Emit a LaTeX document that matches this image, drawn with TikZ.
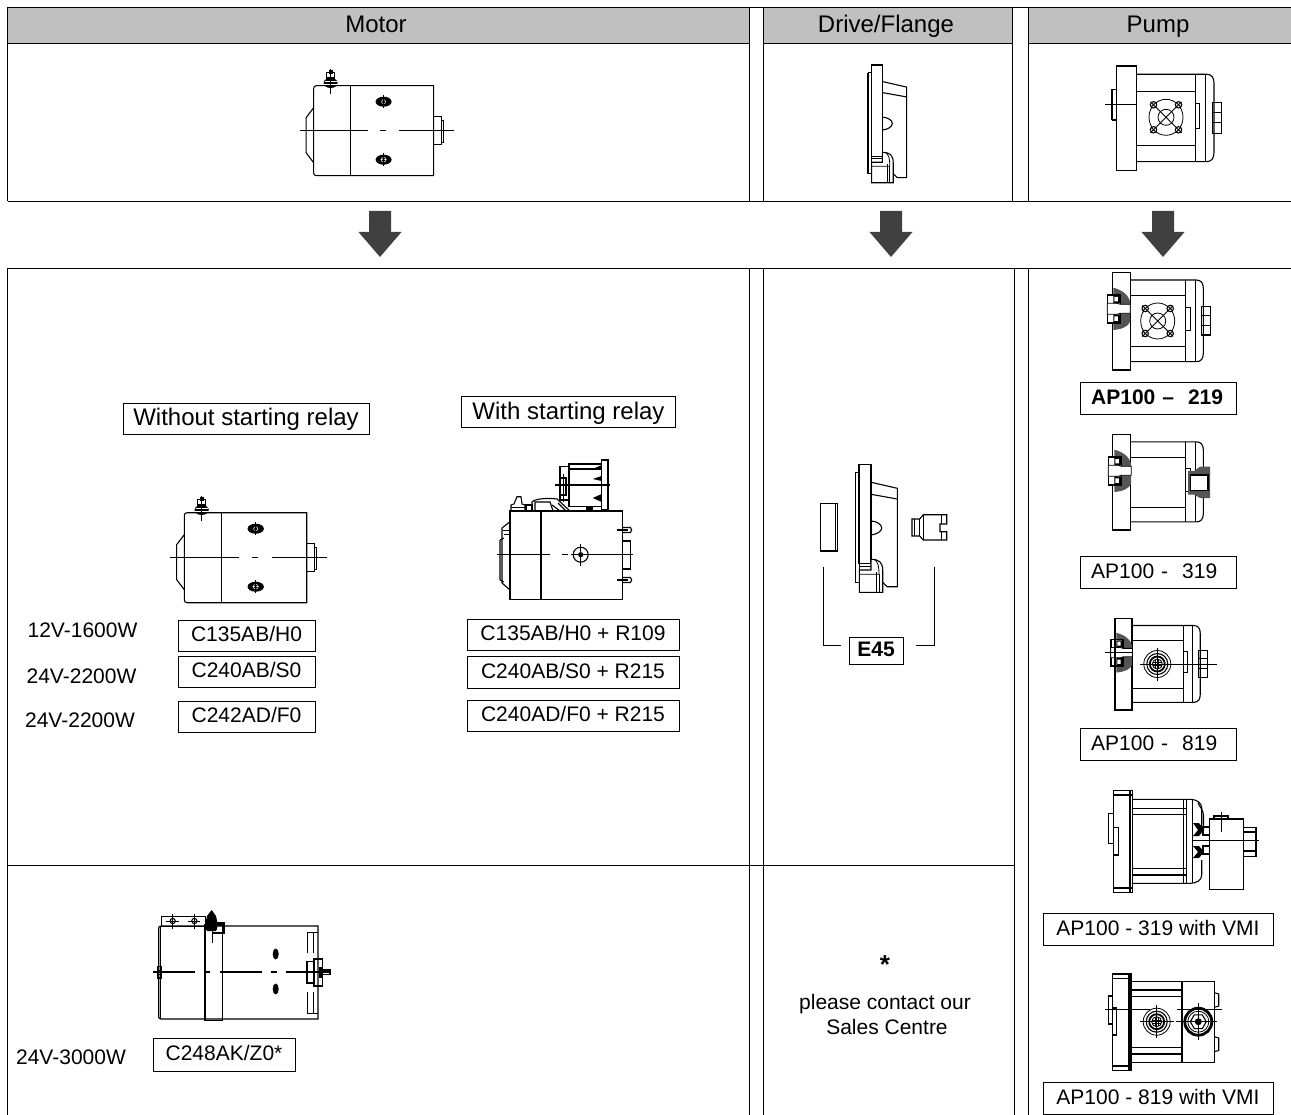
\documentclass[tikz,border=0pt]{standalone}
\usepackage{fontspec}
\setmainfont{Liberation Sans}
\definecolor{headgray}{RGB}{192,192,192}
\definecolor{arrowgray}{RGB}{64,64,64}
\definecolor{hatchgray}{RGB}{85,85,85}
\tikzset{
  tb/.style={line width=1pt,black},
  dw/.style={line width=1.1pt,black},
  thn/.style={line width=.8pt,black},
  bx/.style={draw=black,line width=.9pt,fill=white,inner sep=0pt,font=\fontsize{21}{21}\selectfont,text height=16pt,text depth=3.5pt,align=center},
  tx/.style={inner sep=0pt,font=\fontsize{21}{21}\selectfont,text height=16pt,text depth=3.5pt},
  bigbx/.style={bx,font=\fontsize{24}{24}\selectfont,text height=18pt,text depth=4pt},
  head/.style={inner sep=0pt,font=\fontsize{24}{24}\selectfont,text height=17pt,text depth=5pt},
  downarrow/.pic={\fill[arrowgray] (-11,0) -- (11,0) -- (11,21) -- (21.5,21) -- (0,46) -- (-21.5,21) -- (-11,21) -- cycle;},
  motorbody/.pic={
    \draw[dw] (120,0) -- (3,0) .. controls (1,0) and (0,1) .. (0,3) -- (0,87) .. controls (0,89) and (1,90) .. (3,90) -- (120,90) -- cycle;
    \draw[thn] (36.5,0) -- (36.5,90);
    \draw[dw] (0,22) -- (-7.5,32) -- (-7.5,67) -- (0,77);
    \draw[dw] (120,31) rectangle (128,59);
    \draw[thn] (128,35) -- (129.5,35) -- (129.5,57) -- (128,57);
    \draw[dw] (-14,45) -- (54,45) (66.5,45) -- (72,45) (85.5,45) -- (140,45);
    \fill (70,16) ellipse[x radius=8,y radius=5];
    \fill (70,74) ellipse[x radius=8,y radius=5];
    \draw[white,line width=.5pt] (70,16) circle[radius=2];
    \draw[white,line width=.5pt] (70,74) circle[radius=2.4] (67,74) -- (73,74) (70,71) -- (70,77);
    \draw[thn] (70,9.5) -- (70,22.5) (70,67.5) -- (70,80.5);
    \fill (17,-2.7) ellipse[x radius=7,y radius=5];
    \draw[dw,fill=white] (13,-13) rectangle (21,-7.7);
    \fill (15,-16) rectangle (19,-12);
    \draw[white,line width=.6pt] (10,-1) -- (24,-1) (11,-4.5) -- (23,-4.5);
    \draw[thn] (17,-17) -- (17,8);
  },
  drive/.pic={
    \draw[dw] (0,0) rectangle (12,99);
    \draw[dw] (-3.7,8.4) -- (0,8.4) (0,118.4) -- (-3.7,118.4) -- (-3.7,8.4);
    \draw[thn] (0,99) -- (0,118.4);
    \draw[dw] (12,18) -- (38.3,24) -- (38.3,122.4) -- (28,122.4) -- (23.7,118);
    \draw[dw] (12,30) -- (38.3,34.7);
    \draw[dw] (12,18) -- (12,95);
    \draw[dw] (12,56.7) .. controls (18,57) and (22.7,60) .. (22.7,63.7) .. controls (22.7,67) and (18,70) .. (12,70.7);
    \draw[dw,fill=white] (12,95) .. controls (20,95) and (23.7,98) .. (23.7,106) -- (23.7,128) -- (0.3,128) -- (0.3,105.7) -- (12,105.7) -- cycle;
    \draw[thn] (15,95) .. controls (19,97) and (20,102) .. (20,110) -- (0.3,110);
    \draw[thn] (17,108) -- (17,128) (20,110) -- (20,128) (0.3,102) -- (12,102);
  },
  pumphousing/.pic={
    \draw[dw] (18.4,7.7) -- (84,7.7) .. controls (89,7.7) and (91,11) .. (91,16) -- (91,81) .. controls (91,86) and (89,89.4) .. (84,89.4) -- (18.4,89.4);
    \draw[dw] (0,0) rectangle (18.4,97.7);
    \draw[thn] (73.4,7.7) -- (73.4,89.4) (82.7,7.7) -- (82.7,89.4);
    \draw[thn] (18.4,23.4) -- (73.4,23.4) (18.4,74.4) -- (73.4,74.4);
    \draw[thn] (73.4,35) rectangle (77.7,58);
  },
  pumpbolt/.pic={
    \draw[dw] (89.4,34.4) rectangle (98.4,62.7);
    \draw[thn] (89.4,43) -- (98.4,43) (89.4,53) -- (98.4,53);
  },
  pumpport/.pic={
    \draw[thn] (0,0) ellipse[x radius=17,y radius=18];
    \draw[thn] (0,0) circle[radius=8];
    \draw[thn] (-15.5,-15.5) -- (15.5,15.5) (-15.5,15.5) -- (15.5,-15.5);
    \foreach \sx/\sy in {-1/-1,1/-1,-1/1,1/1}{
      \draw[dw,fill=white] (\sx*12.5,\sy*12.5) circle[radius=3.2];
      \draw[thn] (\sx*12.5-2.4,\sy*12.5-2.4) -- (\sx*12.5+2.4,\sy*12.5+2.4) (\sx*12.5-2.4,\sy*12.5+2.4) -- (\sx*12.5+2.4,\sy*12.5-2.4);
    }
  },
  pumpsection/.pic={
    \fill[hatchgray] (1,15.4) .. controls (10,18) and (16,22) .. (17.7,29.4) -- (17.7,49.4) .. controls (16,54) and (10,57) .. (1,57.7) -- cycle;
    \draw[line width=1.6pt,fill=white] (8,22.7) -- (-5,22.7) -- (-5,50.7) -- (8,50.7) -- cycle;
    \draw[thn,fill=white] (-5,31) -- (5,31) -- (8,32) -- (18,32) -- (18,41) -- (8,41) -- (5,42) -- (-5,42) -- cycle;
    \fill[black] (1,23.5) rectangle (8,31) (1,42) rectangle (8,50);
    \fill[white] (2,24.7) rectangle (5.5,29) (2,44) rectangle (5.5,48.5);
  },
  portbore/.pic={
    \draw[thn] (0,0) circle[radius=13.5];
    \draw[dw] (0,0) circle[radius=10.5];
    \draw[line width=1.8pt] (0,0) circle[radius=7.5];
    \draw[line width=.9pt] (0,0) circle[radius=5];
    \draw[line width=.9pt] (-4.5,-1.5) -- (4.5,-1.5) (-4.5,1.5) -- (4.5,1.5) (-1.5,-4.5) -- (-1.5,4.5) (1.5,-4.5) -- (1.5,4.5);
    \draw[thn] (-17,0) -- (17,0) (0,-16.5) -- (0,16.5);
  }
}
\begin{document}
\begin{tikzpicture}[x=1pt,y=-1pt]
\useasboundingbox (0,0) rectangle (1291,1115);
\fill[white] (0,0) rectangle (1291,1115);
% header bands
\fill[headgray] (7.5,7.5) rectangle (749.5,43.5) (763.5,7.5) rectangle (1012.5,43.5) (1028.5,7.5) rectangle (1291,43.5);
% table top
\draw[tb] (7.5,7.5) -- (1291,7.5) (7.5,43.5) -- (749.5,43.5) (763.5,43.5) -- (1012.5,43.5) (1028.5,43.5) -- (1291,43.5) (7.5,201.5) -- (1291,201.5);
\draw[tb] (7.5,7.5) -- (7.5,201.5) (749.5,7.5) -- (749.5,201.5) (763.5,7.5) -- (763.5,201.5) (1012.5,7.5) -- (1012.5,201.5) (1028.5,7.5) -- (1028.5,201.5);
% table bottom
\draw[tb] (7.5,268.5) -- (1291,268.5) (7.5,865.5) -- (1014.5,865.5);
\draw[tb] (7.5,268.5) -- (7.5,1115) (749.5,268.5) -- (749.5,1115) (763.5,268.5) -- (763.5,1115) (1014.5,268.5) -- (1014.5,1115) (1028.5,268.5) -- (1028.5,1115);
% headers
\node[head] (hmotor) at (376,26.5) {Motor};
\node[head] (hdrive) at (886,26.5) {Drive/Flange};
\node[head] (hpump) at (1158,26.5) {Pump};
% arrows
\pic at (380,211) {downarrow};
\pic at (891,211) {downarrow};
\pic at (1163,211) {downarrow};
% top row drawings
\pic at (313.6,85.7) {motorbody};
\pic[scale=.92] at (871.4,65) {drive};
\pic[scale=1.07] at (1116.6,66) {pumphousing};
\pic[scale=1.07] at (1116.6,66) {pumpbolt};
\pic at (1166,117.3) {pumpport};
\draw[dw] (1112,89.3) -- (1116.6,89.3) (1112,120) -- (1116.6,120) (1112,89.3) -- (1112,120);
\draw[dw] (1105,104.7) -- (1136,104.7);
% motor column labels
\node[bigbx,minimum width=246pt,minimum height=31pt] (nowo) at (246,418.5) {Without starting relay};
\node[bigbx,minimum width=214pt,minimum height=31pt] (wi) at (568.5,412) {With starting relay};
\pic[xscale=1.02] at (184.3,512.7) {motorbody};
% relay motor
\draw[dw] (510,511) rectangle (622.7,599.3);
\draw[dw] (541,511) -- (541,599.3);
\draw[dw] (510,521.7) -- (502,528) -- (502,583) -- (510,590);
\draw[dw] (510,521.7) -- (510,590);
\draw[dw] (500,540) -- (500,580) (500,540) -- (504,538) (500,580) -- (504,582);
\draw[dw] (622.7,541) -- (630.7,541) -- (630.7,569) -- (622.7,569);
\draw[dw] (496.7,554.7) -- (550,554.7) (561.7,554.7) -- (568,554.7) (571,554.7) -- (632.7,554.7);
\draw[dw] (580.7,554.7) circle[radius=7.5];
\draw[thn] (580.7,544) -- (580.7,565.5);
\fill (580.7,554.7) circle[radius=2.6];
\draw[dw] (617,530) -- (628,530) (617,580) -- (628,580);
\draw[dw] (622.7,527.5) -- (630.5,527.5) -- (631.7,530) -- (630.5,532.5) -- (622.7,532.5);
\draw[dw] (622.7,577.5) -- (630.5,577.5) -- (631.7,580) -- (630.5,582.5) -- (622.7,582.5);
\draw[thn] (503,530) -- (510,530) (504,534) -- (510,534);
% relay unit
\draw[dw] (569,464) rectangle (601.7,506.7);
\draw[dw] (601.7,460) -- (608,460) -- (608,510) -- (601.7,510) -- cycle;
\fill (601.7,465) -- (592.7,469) -- (601.7,470) -- cycle (601.7,476) -- (592.7,479) -- (601.7,481) -- cycle (601.7,494) -- (592.7,498) -- (601.7,502) -- cycle;
\draw[dw] (560,466.7) rectangle (569,500);
\draw[dw] (555,485) -- (610,485);
\draw[dw] (569,469) -- (601.7,469);
\draw[dw] (560,478) rectangle (566,495);
\draw[thn] (563,474) -- (563,502);
\draw[dw] (517,496.7) -- (521,496.7) -- (522,504) -- (525,505) -- (525,511) -- (511,511) -- (511,505) -- (514,504) -- cycle;
\draw[thn] (511,507) -- (525,507);
\draw[dw] (526,505) rectangle (532,511);
\draw[dw] (532,511) -- (532,502) .. controls (536,498) and (550,498) .. (557,499) -- (570,511);
\draw[dw] (535,511) -- (535,502) -- (550,502) -- (553,511);
\draw[dw] (558,503) -- (566,511) (552,505) -- (560,511);
\fill (586,507) rectangle (593,511);
% type boxes motor
\node[bx,minimum width=137pt,minimum height=31pt] (m1) at (246.5,635.5) {C135AB/H0};
\node[bx,minimum width=137pt,minimum height=31pt] (m2) at (246.5,671.5) {C240AB/S0};
\node[bx,minimum width=137pt,minimum height=31pt] (m3) at (246.5,716.5) {C242AD/F0};
\node[bx,minimum width=212pt,minimum height=31pt] (r1) at (573,634.5) {C135AB/H0 + R109};
\node[bx,minimum width=212pt,minimum height=32pt] (r2) at (573,672) {C240AB/S0 + R215};
\node[bx,minimum width=212pt,minimum height=31pt] (r3) at (573,715.5) {C240AD/F0 + R215};
\node[tx] (v1) at (82.5,631) {12V-1600W};
\node[tx] (v2) at (81.5,677.5) {24V-2200W};
\node[tx] (v3) at (80,721.5) {24V-2200W};
\node[tx] (v4) at (71,1058.5) {24V-3000W};
% big motor
\draw[dw] (318,926) -- (161,926) .. controls (159.5,926) and (158.7,927) .. (158.7,928) -- (158.7,1017) .. controls (158.7,1018) and (159.5,1019) .. (161,1019) -- (318,1019) -- cycle;
\draw[dw] (205,925) rectangle (222.7,1020.7);
\draw[thn] (161,916) rectangle (205.7,926);
\draw[thn] (160.5,926) -- (160.5,1019);
\draw[thn] (166,921) -- (179,921) (188,921) -- (200,921) (172.7,914) -- (172.7,929) (194.3,914) -- (194.3,929);
\draw[dw] (172.7,921) circle[radius=2.6] (194.3,921) circle[radius=2.6];
\fill (206,923) rectangle (217,930);
\fill (211.7,910) -- (216,916) -- (218,925) -- (216,931) -- (207,931) -- (205,925) -- (207,916) -- cycle;
\draw[dw] (217,923) -- (224,923) -- (224,933) -- (212,933);
\draw[thn] (212,930) -- (212,943);
\draw[dw] (153,972) -- (195,972) (205.7,972) -- (210,972) (219.5,972) -- (262,972) (271,972) -- (276.7,972) (285.7,972) -- (330,972);
\fill (275.7,954) ellipse[x radius=3,y radius=5.5] (275.7,989) ellipse[x radius=3,y radius=5.5];
\draw[dw] (158,966.7) rectangle (161.7,978);
\draw[thn] (158,970) -- (161.7,970) (158,974) -- (161.7,974);
\draw[thn] (318,932) -- (307,932) -- (307,953) (313,932) -- (313,953);
\draw[thn] (318,1013) -- (307,1013) -- (307,992) (313,1013) -- (313,992);
\draw[dw] (307,961.7) rectangle (314,983);
\draw[dw] (314,959) rectangle (322.7,986);
\draw[dw] (322.7,970) rectangle (330,974.7);
\fill (319,967) rectangle (323,978);
\node[bx,minimum width=142pt,minimum height=33pt] (m4) at (224,1054.5) {C248AK/Z0*};
% drive column
\pic at (859,464.3) {drive};
\draw[dw] (820.3,503.3) rectangle (837.3,551);
\draw[thn] (835.5,503.3) -- (835.5,551);
\draw[dw] (923.3,514.7) -- (946.7,514.7) -- (946.7,524) -- (940,524) -- (940,531.7) -- (946.7,531.7) -- (946.7,540) -- (923.3,540) -- (919.7,536) -- (912,536) -- (912,519) -- (919.7,519) -- cycle;
\draw[thn] (923.3,514.7) -- (923.3,540) (919.7,519) -- (919.7,536) (941.5,514.7) -- (941.5,524) (941.5,531.7) -- (941.5,540) (914,519) -- (914,536);
\node[bx,minimum width=54pt,minimum height=27pt,font=\bfseries\fontsize{21}{21}\selectfont] (e45) at (876,650.5) {E45};
\coordinate (bl) at (823.7,566.7);
\coordinate (br) at (934,566.7);
\draw[thn] (bl) |- ([shift={(-8,-5)}]e45.west);
\draw[thn] (br) |- ([shift={(13,-5)}]e45.east);
\node[tx,font=\bfseries\fontsize{26}{26}\selectfont] (star) at (885,967) {*};
\node[tx] (contact1) at (885,1003.5) {please contact our};
\node[tx] (contact2) at (887,1028.5) {Sales Centre};
% pump column
\pic at (1112.3,272.3) {pumphousing};
\pic at (1112.3,272.3) {pumpbolt};
\pic at (1157.7,321) {pumpport};
\pic at (1112.3,272.3) {pumpsection};
\node[bx,minimum width=156pt,minimum height=32pt,font=\bfseries\fontsize{21}{21}\selectfont,text width=135pt,align=left] (a1) at (1158.7,398) {AP100 –\ \ 219};
\pic[yscale=.98] at (1112.3,434.3) {pumphousing};
\pic at (1113.3,434.3) {pumpsection};
\fill[hatchgray] (1188,471) -- (1194,471) -- (1200,466.7) -- (1210,466.7) -- (1210,498) -- (1200,498) -- (1194,494.5) -- (1188,494.5) -- cycle;
\draw[dw,fill=white] (1190.7,475) rectangle (1208,490.7);
\node[bx,minimum width=156pt,minimum height=32pt,text width=135pt,align=left] (a2) at (1158.7,572.5) {AP100 -\ \ 319};
\pic[scale=.94] at (1114.7,618.3) {pumphousing};
\pic[scale=.94] at (1114.7,618.3) {pumpbolt};
\pic[scale=.94] at (1115.5,618.3) {pumpsection};
\draw[line width=1.6pt] (1183.3,626) -- (1183.3,702.7) (1192.3,626) -- (1192.3,702.7);
\draw[line width=1.6pt] (1114.7,618.3) rectangle (1132.3,710);
\pic at (1157.3,664) {portbore};
\draw[dw] (1105,652.3) -- (1132,652.3);
\draw[thn] (1174,664) -- (1216.7,664);
\node[bx,minimum width=156pt,minimum height=32pt,text width=135pt,align=left] (a3) at (1158.7,744.5) {AP100 -\ \ 819};
% 319 VMI
\draw[dw] (1113.3,790.7) rectangle (1132.3,892.3);
\draw[dw] (1113.3,795) -- (1132.3,795) (1113.3,888) -- (1132.3,888);
\draw[line width=1.4pt] (1130,790.7) -- (1130,892.3);
\draw[dw] (1132.3,799.3) -- (1190,799.3) .. controls (1197,799.3) and (1201.7,803) .. (1201.7,808) -- (1201.7,830);
\draw[dw] (1132.3,883.3) -- (1190,883.3) .. controls (1197,883.3) and (1201.7,880) .. (1201.7,875) -- (1201.7,860);
\draw[dw] (1132.3,808.3) -- (1186.7,808.3) (1132.3,814.3) -- (1186.7,814.3) (1132.3,868.3) -- (1186.7,868.3) (1132.3,875) -- (1186.7,875);
\draw[thn] (1183.3,799.3) -- (1183.3,883.3) (1186.7,799.3) -- (1186.7,883.3) (1192.3,799.3) -- (1192.3,883.3);
\draw[dw] (1198,803) .. controls (1200,807) and (1203,810) .. (1203.5,815) -- (1203.5,830);
\draw[dw] (1108.7,813.3) rectangle (1113.3,843.3);
\draw[dw] (1113.3,827.7) -- (1118.3,827.7) -- (1118.3,855) -- (1113.3,855);
\fill (1193,823) -- (1199,823) -- (1204,830) -- (1199,836) -- (1193,836) -- (1198,830) -- cycle;
\fill (1193,846) -- (1199,846) -- (1204,852) -- (1199,858) -- (1193,858) -- (1198,852) -- cycle;
\draw[dw] (1203,827) rectangle (1209.3,835) (1203,846) rectangle (1209.3,854);
\draw[dw] (1209.3,819) rectangle (1243.7,889.3);
\draw[dw] (1214,819) -- (1214,816) -- (1228,816) -- (1228,819);
\draw[thn] (1221,811.7) -- (1221,832);
\draw[dw] (1243.7,827.3) rectangle (1256,856.7);
\draw[dw] (1243.7,832) -- (1256,832) (1243.7,840.7) -- (1256,840.7) (1243.7,851) -- (1256,851);
\draw[thn] (1191.7,840.7) -- (1259.3,840.7);
\node[bx,minimum width=230pt,minimum height=32pt] (a4) at (1158,929) {AP100 - 319 with VMI};
% 819 VMI
\draw[dw] (1112.7,974) rectangle (1131,1070.7);
\draw[dw] (1112.7,978.3) -- (1131,978.3) (1112.7,1066) -- (1131,1066);
\draw[line width=1.4pt] (1129,974) -- (1129,1070.7);
\draw[dw] (1131,981.7) rectangle (1214.3,1062.3);
\draw[dw] (1182,981.7) -- (1182,1062.3);
\draw[dw] (1131,990) -- (1182,990) (1131,996.7) -- (1182,996.7) (1131,1047.7) -- (1182,1047.7) (1131,1054) -- (1182,1054);
\draw[dw] (1214.3,992.7) -- (1218.7,994) -- (1218.7,1006) -- (1214.3,1007.3) (1214.3,1036.7) -- (1218.7,1038) -- (1218.7,1050.5) -- (1214.3,1051.7);
\draw[dw] (1108.3,996) rectangle (1112.7,1024);
\draw[dw] (1112.7,1008) -- (1116.7,1008) -- (1116.7,1035) -- (1112.7,1035);
\draw[thn] (1105,1009.3) -- (1131,1009.3);
\draw[thn] (1131,1009.3) -- (1150,1009.3) (1177,1009.3) -- (1221.7,1009.3);
\pic at (1156.7,1021.7) {portbore};
\draw[line width=2.8pt] (1198.3,1021.7) circle[radius=13.5];
\draw[thn] (1198.3,1021.7) circle[radius=10.5];
\draw[dw] (1206.3,1021.7) -- (1202.3,1028.6) -- (1194.3,1028.6) -- (1190.3,1021.7) -- (1194.3,1014.8) -- (1202.3,1014.8) -- cycle;
\fill (1198.3,1021.7) circle[radius=3.5];
\draw[thn] (1176,1021.7) -- (1217,1021.7) (1198.3,1003) -- (1198.3,1040);
\node[bx,minimum width=230pt,minimum height=32pt,anchor=center] (a5) at (1158,1098) {AP100 - 819 with VMI};
\end{tikzpicture}
\end{document}
